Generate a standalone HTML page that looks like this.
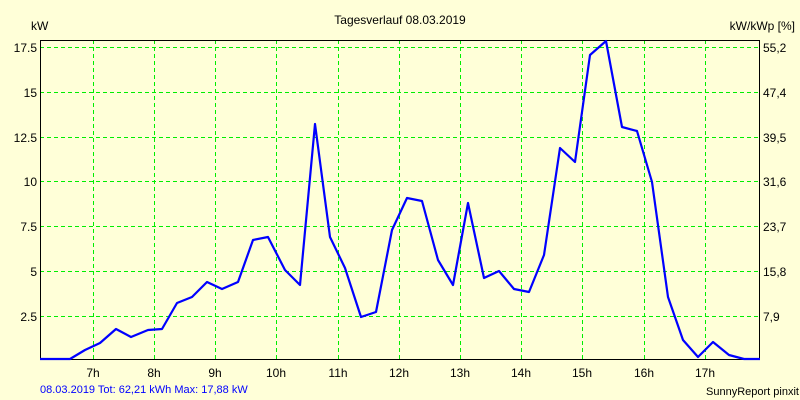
<!DOCTYPE html>
<html><head><style>
body{margin:0;background:#ffffd8;}
svg{display:block;font-family:"Liberation Sans",sans-serif;font-size:12px;}
</style></head><body>
<svg width="800" height="400" viewBox="0 0 800 400">
<rect width="800" height="400" fill="#ffffd8"/>
<g stroke="#00ee00" stroke-dasharray="4,3" stroke-width="1">
<line x1="40" x2="760" y1="47.5" y2="47.5"/>
<line x1="40" x2="760" y1="92.5" y2="92.5"/>
<line x1="40" x2="760" y1="137.5" y2="137.5"/>
<line x1="40" x2="760" y1="181.5" y2="181.5"/>
<line x1="40" x2="760" y1="226.5" y2="226.5"/>
<line x1="40" x2="760" y1="271.5" y2="271.5"/>
<line x1="40" x2="760" y1="316.5" y2="316.5"/>
<line y1="40" y2="359" x1="93.5" x2="93.5"/>
<line y1="40" y2="359" x1="154.5" x2="154.5"/>
<line y1="40" y2="359" x1="215.5" x2="215.5"/>
<line y1="40" y2="359" x1="276.5" x2="276.5"/>
<line y1="40" y2="359" x1="338.5" x2="338.5"/>
<line y1="40" y2="359" x1="399.5" x2="399.5"/>
<line y1="40" y2="359" x1="460.5" x2="460.5"/>
<line y1="40" y2="359" x1="521.5" x2="521.5"/>
<line y1="40" y2="359" x1="582.5" x2="582.5"/>
<line y1="40" y2="359" x1="644.5" x2="644.5"/>
<line y1="40" y2="359" x1="705.5" x2="705.5"/>
</g>
<rect x="40.5" y="40.5" width="719" height="319" fill="none" stroke="#000" stroke-width="1"/>
<polyline fill="none" stroke="#0000ff" stroke-width="2.2" stroke-linejoin="round" points="40,359 70,359 85,350 100,343 116,329 131,337 148,330 162,329 177,303 192,297 207,282 222,289 238,282 253,240 268,237 285,270 300,285 315,124 330,237 345,268 361,317 376,312 392,230 407,198 422,201 438,260 453,285 468,203 484,278 499,271 514,289 529,292 544,255 560,148 575,162 590,55 606,41 622,127 637,131 652,182 668,297 683,340 698,357 713,342 729,355 744,359 760,359"/>
<g fill="#000">
<text x="400" y="24" text-anchor="middle">Tagesverlauf 08.03.2019</text>
<text x="31" y="30">kW</text>
<text x="795" y="30" text-anchor="end">kW/kWp [%]</text>
<g text-anchor="end">
<text x="37" y="52">17.5</text>
<text x="37" y="97">15</text>
<text x="37" y="142">12.5</text>
<text x="37" y="186">10</text>
<text x="37" y="231">7.5</text>
<text x="37" y="276">5</text>
<text x="37" y="321">2.5</text>
</g>
<g>
<text x="763" y="52">55,2</text>
<text x="763" y="97">47,4</text>
<text x="763" y="142">39,5</text>
<text x="763" y="186">31,6</text>
<text x="763" y="231">23,7</text>
<text x="763" y="276">15,8</text>
<text x="763" y="321">7,9</text>
</g>
<g text-anchor="middle">
<text x="93" y="377">7h</text>
<text x="154" y="377">8h</text>
<text x="215" y="377">9h</text>
<text x="276" y="377">10h</text>
<text x="338" y="377">11h</text>
<text x="399" y="377">12h</text>
<text x="460" y="377">13h</text>
<text x="521" y="377">14h</text>
<text x="582" y="377">15h</text>
<text x="644" y="377">16h</text>
<text x="705" y="377">17h</text>
</g>
<text x="706" y="395" font-size="11">SunnyReport pinxit</text>
</g>
<text x="40" y="393" font-size="11" fill="#0000ff">08.03.2019 Tot: 62,21 kWh Max: 17,88 kW</text>
</svg>
</body></html>
